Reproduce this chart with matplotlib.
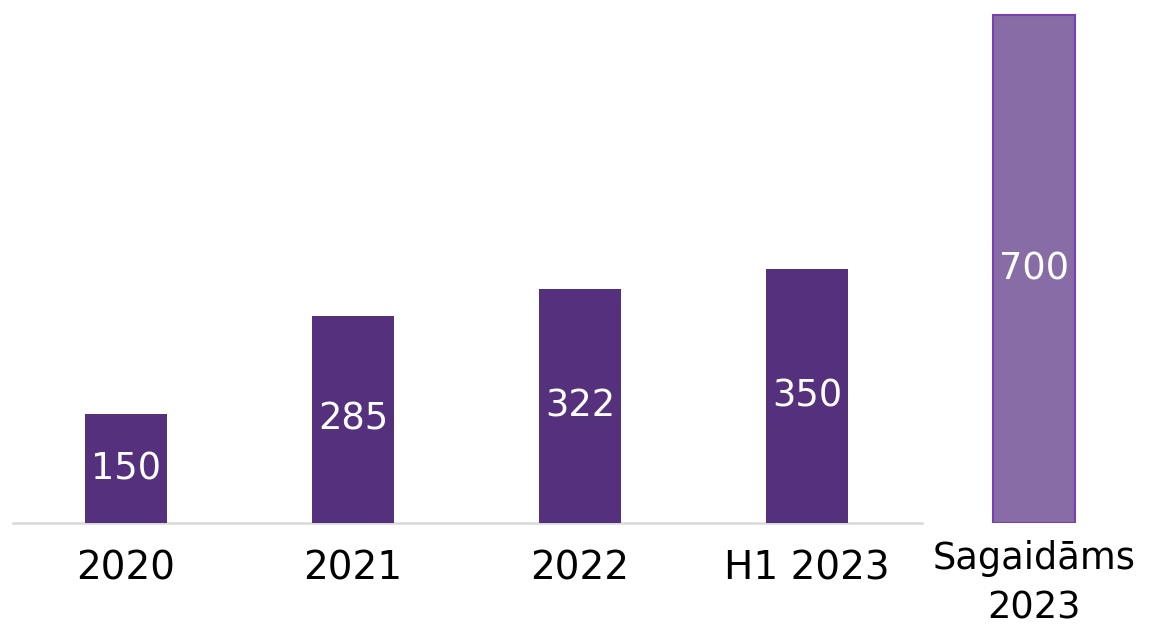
import matplotlib
matplotlib.use('Agg')
import matplotlib.pyplot as plt
import matplotlib.transforms as mtransforms

# chart data
categories = ['2020', '2021', '2022', 'H1 2023', 'Sagaidāms\n2023']
values = [150, 285, 322, 350, 700]

plt.rcParams['font.family'] = ['DejaVu Sans']

fig = plt.figure(figsize=(11.56, 6.27), dpi=100)
ax = fig.add_axes([0, 104 / 627, 1, 523 / 627])

x = list(range(len(values)))
colors = ['#55307d'] * 4 + ['#876ca6']
edges = ['#55307d'] * 4 + ['#7a3fb0']
bars = ax.bar(x, values, width=0.36, color=colors, edgecolor=edges, linewidth=[0, 0, 0, 0, 1.5])

ax.set_xlim(-0.555, 4.537)
ax.set_ylim(0, 720)
ax.axis('off')

# baseline only under the first four bars
ax.plot([-0.498, 3.507], [0, 0], color='#d9d9d9', lw=1.8, clip_on=False, zorder=0)

# value labels in the middle of each bar
for xi, v in zip(x, values):
    ax.text(xi, v / 2, str(v), ha='center', va='center', color='white', fontsize=26.5)

# category labels below the axis
for xi, lab in zip(x, categories):
    if '\n' in lab:
        t = mtransforms.offset_copy(ax.transData, fig=fig, y=-60, units='dots')
        ax.text(xi, 0, lab, ha='center', va='center', fontsize=26.5, transform=t,
                linespacing=1.42, clip_on=False)
    else:
        t = mtransforms.offset_copy(ax.transData, fig=fig, y=-46, units='dots')
        ax.text(xi, 0, lab, ha='center', va='center', fontsize=28, transform=t, clip_on=False)

fig.savefig('out.png', dpi=100)
